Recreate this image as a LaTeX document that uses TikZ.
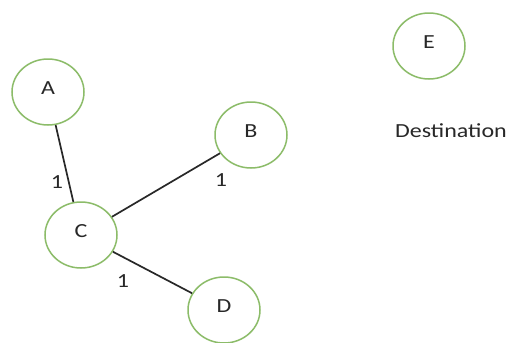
\documentclass[tikz,border=0pt]{standalone}
\usepackage{fontspec}
\setmainfont{Carlito}
\usetikzlibrary{shapes.geometric}
\definecolor{ringgreen}{RGB}{140,188,105}
\definecolor{inkgray}{RGB}{40,40,40}
\newcommand{\sx}[1]{\scalebox{1.2}[1]{#1}}
\newcommand{\lett}[1]{\smash{\raisebox{-2.5pt}{\sx{#1}}}}
\tikzset{
  vtx/.style={ellipse, draw=ringgreen, line width=1.5pt, fill=white,
    minimum width=72pt, minimum height=66pt, inner sep=0pt, font=\fontsize{20pt}{24pt}\selectfont, text=inkgray},
  edge/.style={draw=inkgray, line width=1.7pt},
  wlab/.style={font=\fontsize{20pt}{24pt}\selectfont, text=inkgray, inner sep=0pt}
}
\begin{document}
\begin{tikzpicture}[x=1pt,y=-1pt]
\useasboundingbox[fill=white] (0,0) rectangle (512,343);
\node[vtx] (A) at (48,92) {\lett{A}};
\node[vtx] (B) at (251,135) {\lett{B}};
\node[vtx] (C) at (81,235) {\lett{C}};
\node[vtx] (D) at (224,310) {\lett{D}};
\node[vtx] (E) at (429,46) {\lett{E}};
\draw[edge] (A) -- (C);
\draw[edge] (C) -- (B);
\draw[edge] (C) -- (D);
\node[wlab] (l1) at (57,182) {\sx{1}};
\node[wlab] (l2) at (221,180) {\sx{1}};
\node[wlab] (l3) at (123,281) {\sx{1}};
\node[wlab] (dest) at (451,131) {\sx{Destination}};
\end{tikzpicture}
\end{document}
